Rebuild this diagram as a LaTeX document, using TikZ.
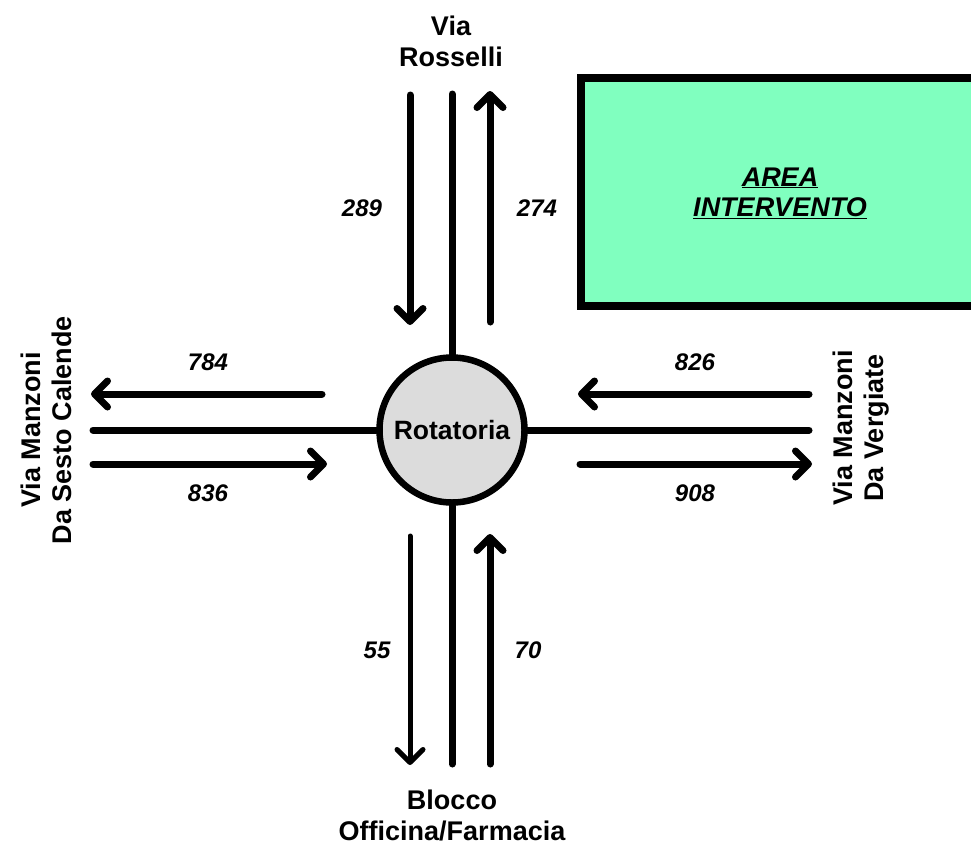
\documentclass[tikz,border=0pt]{standalone}
\usepackage{fontspec}
\setmainfont{Liberation Sans}
\usetikzlibrary{arrows.meta}
\definecolor{areagreen}{RGB}{128,255,191}
\definecolor{rotgray}{RGB}{220,220,220}
\begin{document}
\begin{tikzpicture}[x=1pt,y=-1pt,
  road/.style={line width=7pt, line cap=round},
  flow/.style={line width=7pt, line cap=round, -{Straight Barb[length=13pt,width=26pt,round]}},
  thinflow/.style={flow, line width=5pt},
  lbl/.style={font=\fontsize{27}{31}\selectfont\bfseries, align=center, inner sep=0pt},
  num/.style={font=\fontsize{24}{28}\selectfont\bfseries\itshape, inner sep=0pt},
  areabox/.style={draw, fill=areagreen, line width=7.5pt},
  rotbox/.style={circle, draw, fill=rotgray, line width=6.5pt, minimum size=145pt, inner sep=0pt,
    font=\fontsize{26.5}{31}\selectfont\bfseries}]
\useasboundingbox (0,0) rectangle (971,844);

% area box
\draw[areabox] (581,78) rectangle (995,306);
\node[lbl, font=\fontsize{27}{30}\selectfont\bfseries\itshape] (area) at (780,193)
  {\underline{AREA}\\\underline{INTERVENTO}};

% roundabout
\node[rotbox] (rot) at (452,430) {Rotatoria};

% road ends
\coordinate (nEnd) at (452,94);
\coordinate (sEnd) at (452,764);
\coordinate (wEnd) at (93,430);
\coordinate (eEnd) at (809,430);

\draw[road] (rot.north) -- (nEnd);
\draw[road] (rot.south) -- (sEnd);
\draw[road] (rot.west) -- (wEnd);
\draw[road] (rot.east) -- (eEnd);

% flow arrows endpoints
\coordinate (n1a) at (410,95);  \coordinate (n1b) at (410,325);
\coordinate (n2a) at (490,322); \coordinate (n2b) at (490,91);
\coordinate (s1a) at (410,536); \coordinate (s1b) at (410,765);
\coordinate (s2a) at (490,764); \coordinate (s2b) at (490,534);
\coordinate (w1a) at (322,394); \coordinate (w1b) at (91,394);
\coordinate (w2a) at (93,464);  \coordinate (w2b) at (327,464);
\coordinate (e1a) at (809,394); \coordinate (e1b) at (578,394);
\coordinate (e2a) at (580,464); \coordinate (e2b) at (812,464);

\draw[flow] (n1a) -- (n1b);
\draw[flow] (n2a) -- (n2b);
\draw[thinflow] (s1a) -- (s1b);
\draw[flow] (s2a) -- (s2b);
\draw[flow] (w1a) -- (w1b);
\draw[flow] (w2a) -- (w2b);
\draw[flow] (e1a) -- (e1b);
\draw[flow] (e2a) -- (e2b);

% numbers
\node[num] (v289) at (362,208) {289};
\node[num] (v274) at (537,208) {274};
\node[num] (v784) at (208,362) {784};
\node[num] (v836) at (208,493) {836};
\node[num] (v826) at (695,362) {826};
\node[num] (v908) at (695,493) {908};
\node[num] (v55) at (377,650) {55};
\node[num] (v70) at (528,650) {70};

% street labels
\node[lbl] (north) at (451,41) {Via\\Rosselli};
\node[lbl] (south) at (452,815) {Blocco\\Officina/Farmacia};
\node[lbl, rotate=90] (west) at (46,430) {Via Manzoni\\Da Sesto Calende};
\node[lbl, rotate=90] (east) at (861,428) {Via Manzoni\\Da Vergiate};
\end{tikzpicture}
\end{document}
